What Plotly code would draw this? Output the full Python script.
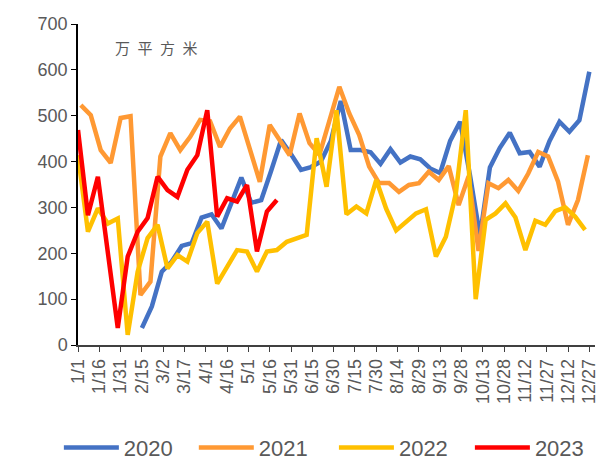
"""Weekly area chart, 2020-2023, drawn on a shared calendar-year axis."""
import pandas as pd
import plotly.graph_objects as go

# Weekly values (万平方米); each year is drawn on a common 2021 calendar
start_2020 = "2021-02-15"
vals_2020 = [
    37, 84, 160, 182, 216, 222, 278, 285, 254, 310,
    365, 310, 316, 380, 447, 416, 382, 388, 400, 445,
    532, 425, 425, 420, 395, 427, 398, 411, 405, 385,
    375, 445, 487, 370, 238, 387, 430, 463, 418, 421,
    389, 445, 487, 465, 490, 596,
]

start_2021 = "2021-01-03"
vals_2021 = [
    523, 501, 425, 397, 495, 499, 109, 138, 411, 462,
    425, 454, 491, 488, 432, 472, 498, 430, 356, 480,
    447, 414, 505, 440, 415, 490, 563, 505, 458, 389,
    353, 353, 334, 349, 353, 378, 360, 390, 305, 368,
    205, 353, 342, 360, 336, 374, 421, 411, 356, 262,
    316, 414,
]

start_2022 = "2021-01-01"
vals_2022 = [
    414, 247, 298, 265, 276, 22, 160, 233, 262, 167,
    196, 182, 244, 269, 134, 171, 207, 204, 160, 204,
    207, 225, 233, 240, 451, 345, 512, 285, 302, 287,
    360, 297, 250, 269, 287, 296, 193, 236, 330, 512,
    100, 273, 287, 309, 278, 207, 271, 262, 292, 300,
    280, 251,
]

start_2023 = "2021-01-01"
vals_2023 = [
    469, 283, 367, 200, 37, 193, 247, 277, 367, 338,
    323, 382, 414, 512, 280, 320, 313, 349, 204, 291,
    316,
]

series = [
    ("2020", start_2020, vals_2020, "#4472C4"),
    ("2021", start_2021, vals_2021, "#FF9933"),
    ("2022", start_2022, vals_2022, "#FFC000"),
    ("2023", start_2023, vals_2023, "#FF0000"),
]

TEXT_GREY = "#595959"
FONT = "Liberation Sans"
DAY_MS = 86400000

# One legend box per series so they sit in a single row like the original
legend_ids = ["legend", "legend2", "legend3", "legend4"]
legend_x = [-0.037, 0.224, 0.495, 0.758]

fig = go.Figure()
for (name, start, vals, color), leg in zip(series, legend_ids):
    dates = pd.date_range(start, periods=len(vals), freq="7D")
    fig.add_trace(
        go.Scatter(
            x=dates,
            y=vals,
            mode="lines",
            name=name,
            line=dict(color=color, width=4.5),
            legend=leg,
        )
    )

legend_style = dict(
    orientation="h",
    xanchor="left",
    y=-0.32,
    yanchor="middle",
    font=dict(size=22, color=TEXT_GREY),
    itemwidth=55,
    entrywidth=62,
    entrywidthmode="pixels",
    bgcolor="rgba(0,0,0,0)",
)

fig.update_layout(
    # page body adds an 8px margin, so the figure is 8px smaller
    width=598,
    height=449,
    margin=dict(l=70, r=11, t=16, b=112, autoexpand=False),
    plot_bgcolor="white",
    paper_bgcolor="white",
    font=dict(family=FONT, color=TEXT_GREY),
    xaxis=dict(
        type="date",
        range=["2021-01-01", "2021-12-31"],
        tick0="2021-01-01",
        dtick=15 * DAY_MS,
        tickformat="%-m/%-d",
        tickangle=-90,
        tickfont=dict(size=18, color=TEXT_GREY),
        ticks="outside",
        ticklen=5,
        tickcolor="#404040",
        showline=True,
        linecolor="#404040",
        linewidth=1.5,
        showgrid=False,
        zeroline=False,
        automargin=False,
    ),
    # Second copy of the x axis only to get ticks crossing the axis line
    xaxis2=dict(
        type="date",
        overlaying="x",
        anchor="y",
        side="bottom",
        range=["2021-01-01", "2021-12-31"],
        tick0="2021-01-01",
        dtick=15 * DAY_MS,
        ticks="inside",
        ticklen=5,
        tickcolor="#404040",
        showticklabels=False,
        showline=False,
        showgrid=False,
        zeroline=False,
    ),
    yaxis=dict(
        range=[0, 700],
        dtick=100,
        tickfont=dict(size=18, color=TEXT_GREY),
        ticks="outside",
        ticklen=5,
        tickcolor="black",
        showline=True,
        linecolor="black",
        linewidth=1.5,
        showgrid=False,
        zeroline=False,
        automargin=False,
    ),
    showlegend=True,
)

for leg, lx in zip(legend_ids, legend_x):
    fig.update_layout({leg: dict(legend_style, x=lx)})

# Unit label inside the plot area
fig.add_annotation(
    text="万\u2002平\u2002方\u2002米",
    x=0.151,
    y=0.928,
    xref="paper",
    yref="paper",
    xanchor="center",
    yanchor="middle",
    showarrow=False,
    font=dict(family="Noto Sans CJK SC", size=15, color=TEXT_GREY),
)

fig.write_html("out.html")
